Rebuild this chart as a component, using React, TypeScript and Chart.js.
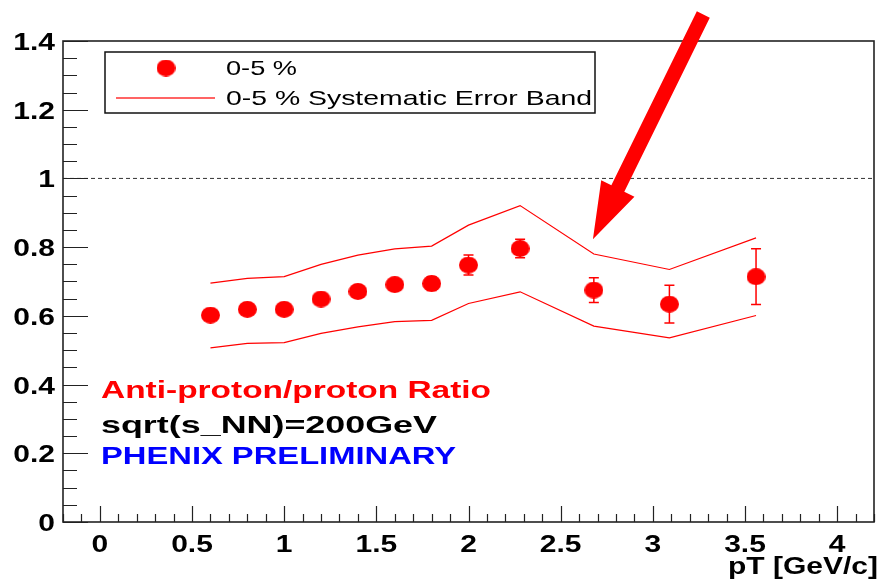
import React, { useEffect, useRef } from 'react';
import { Chart, registerables } from 'chart.js';

Chart.register(...registerables);

// ---- data ----
const pT = [0.6, 0.8, 1.0, 1.2, 1.4, 1.6, 1.8, 2.0, 2.28, 2.68, 3.09, 3.56];
const ratio = [0.602, 0.619, 0.619, 0.649, 0.671, 0.691, 0.694, 0.748, 0.796, 0.675, 0.634, 0.714];
const statErr = [0.01, 0.01, 0.01, 0.012, 0.012, 0.012, 0.02, 0.029, 0.027, 0.036, 0.055, 0.081];
const sysUpper = [0.695, 0.709, 0.714, 0.75, 0.777, 0.795, 0.803, 0.864, 0.921, 0.78, 0.735, 0.827];
const sysLower = [0.507, 0.52, 0.522, 0.549, 0.568, 0.583, 0.587, 0.636, 0.67, 0.57, 0.536, 0.601];
const xTickLabels = ['0', '0.5', '1', '1.5', '2', '2.5', '3', '3.5', '4'];
const yTickLabels = ['0', '0.2', '0.4', '0.6', '0.8', '1', '1.2', '1.4'];
const xRange = [-0.2, 4.2];
const yRange = [0, 1.4];
const referenceLevel = 1;
const arrowTail = { x: 3.274, y: 1.477 };
const arrowTip = { x: 2.675, y: 0.823 };
const legendLabels = ['0-5 %', '0-5 % Systematic Error Band'];
const noteLines = ['Anti-proton/proton Ratio', 'sqrt(s_NN)=200GeV', 'PHENIX PRELIMINARY'];
const noteColors = ['#ff0000', '#000000', '#0000ff'];
const axisTitle = 'pT [GeV/c]';

const FONT = "Arial, 'Liberation Sans', Helvetica, sans-serif";

function makeMarker(w: number, h: number, color: string) {
  const c = document.createElement('canvas');
  c.width = w;
  c.height = h;
  const g = c.getContext('2d')!;
  g.fillStyle = color;
  g.beginPath();
  g.ellipse(w / 2, h / 2, w / 2, h / 2, 0, 0, Math.PI * 2);
  g.fill();
  return c;
}

function drawText(
  ctx: CanvasRenderingContext2D,
  text: string,
  x: number,
  y: number,
  font: string,
  color: string,
  opts: { sx?: number; width?: number; align?: 'left' | 'right' | 'center'; baseline?: CanvasTextBaseline }
) {
  ctx.save();
  ctx.font = font;
  ctx.fillStyle = color;
  ctx.textBaseline = opts.baseline || 'alphabetic';
  ctx.textAlign = 'left';
  const w = ctx.measureText(text).width;
  const sx = opts.width ? opts.width / w : opts.sx || 1;
  const tw = w * sx;
  let left = x;
  if (opts.align === 'right') left = x - tw;
  else if (opts.align === 'center') left = x - tw / 2;
  ctx.translate(left, y);
  ctx.scale(sx, 1);
  ctx.fillText(text, 0, 0);
  ctx.restore();
}

export default function App() {
  const ref = useRef<HTMLCanvasElement | null>(null);

  useEffect(() => {
    if (!ref.current) return;
    const marker = makeMarker(19, 17, '#ff0000');
    const POINTS = 3;

    const rootPlugin = {
      id: 'rootStyle',
      beforeDatasetDraw(chart: any, args: any) {
        if (args.index !== POINTS) return;
        const { ctx, scales } = chart;
        const xs = scales.x;
        const ys = scales.y;
        ctx.save();
        ctx.strokeStyle = '#ff0000';
        ctx.lineWidth = 1.5;
        pT.forEach((p, i) => {
          const px = xs.getPixelForValue(p);
          const top = ys.getPixelForValue(ratio[i] + statErr[i]);
          const bot = ys.getPixelForValue(ratio[i] - statErr[i]);
          ctx.beginPath();
          ctx.moveTo(px, top);
          ctx.lineTo(px, bot);
          ctx.moveTo(px - 5, top);
          ctx.lineTo(px + 5, top);
          ctx.moveTo(px - 5, bot);
          ctx.lineTo(px + 5, bot);
          ctx.stroke();
        });
        ctx.restore();
      },
      afterDraw(chart: any) {
        const { ctx, chartArea: a, scales } = chart;
        const xs = scales.x;
        const ys = scales.y;
        ctx.save();
        // ticks inside the frame
        ctx.strokeStyle = '#222';
        ctx.lineWidth = 1.2;
        ctx.beginPath();
        for (let k = 0; k <= 28; k++) {
          const v = k * 0.05;
          const py = Math.round(ys.getPixelForValue(v)) + 0.5;
          const len = k % 4 === 0 ? 25 : 14;
          ctx.moveTo(a.left, py);
          ctx.lineTo(a.left + len, py);
        }
        for (let k = -2; k <= 42; k++) {
          const v = k * 0.1;
          const px = Math.round(xs.getPixelForValue(v)) + 0.5;
          const len = k % 5 === 0 ? 16 : 8;
          ctx.moveTo(px, a.bottom);
          ctx.lineTo(px, a.bottom - len);
        }
        ctx.stroke();
        // frame
        ctx.lineWidth = 1.6;
        ctx.strokeStyle = '#222';
        ctx.strokeRect(a.left, a.top, a.right - a.left, a.bottom - a.top);
        ctx.restore();

        // tick labels
        const tickFont = `bold 24px ${FONT}`;
        xTickLabels.forEach((t) => {
          const px = xs.getPixelForValue(parseFloat(t));
          drawText(ctx, t, px, 552, tickFont, '#000', { sx: 1.25, align: 'center' });
        });
        yTickLabels.forEach((t) => {
          const py = ys.getPixelForValue(parseFloat(t));
          drawText(ctx, t, 55, py + 9, tickFont, '#000', { sx: 1.25, align: 'right' });
        });
        // axis title
        drawText(ctx, axisTitle, 878, 574, `bold 24px ${FONT}`, '#000', { width: 150, align: 'left' === 'left' ? 'right' : 'right' });

        // legend
        ctx.save();
        ctx.fillStyle = '#fff';
        ctx.fillRect(105, 52, 490, 61);
        ctx.strokeStyle = '#111';
        ctx.lineWidth = 1.5;
        ctx.strokeRect(105, 52, 490, 61);
        ctx.drawImage(marker, 166 - marker.width / 2, 68 - marker.height / 2);
        ctx.strokeStyle = '#ff3030';
        ctx.lineWidth = 1.5;
        ctx.beginPath();
        ctx.moveTo(116, 98);
        ctx.lineTo(215, 98);
        ctx.stroke();
        ctx.restore();
        const legFont = `21px ${FONT}`;
        drawText(ctx, legendLabels[0], 226, 75, legFont, '#000', { width: 71 });
        drawText(ctx, legendLabels[1], 226, 105, legFont, '#000', { width: 366 });

        // notes
        const noteFont = `bold 24px ${FONT}`;
        const baselines = [398, 433, 463.5];
        const widths = [390, 336, 355];
        noteLines.forEach((t, i) => {
          drawText(ctx, t, 101, baselines[i], noteFont, noteColors[i], { width: widths[i] });
        });

        // arrow
        const tx = xs.getPixelForValue(arrowTip.x);
        const ty = ys.getPixelForValue(arrowTip.y);
        const sxp = xs.getPixelForValue(arrowTail.x);
        const syp = ys.getPixelForValue(arrowTail.y);
        const dx = tx - sxp;
        const dy = ty - syp;
        const L = Math.hypot(dx, dy);
        const ux = dx / L;
        const uy = dy / L;
        const nx = -uy;
        const ny = ux;
        const headLen = 56.5;
        const headHalf = 18.5;
        const shaftHalf = 7.2;
        const bx = tx - ux * headLen;
        const by = ty - uy * headLen;
        ctx.save();
        ctx.fillStyle = '#ff0000';
        ctx.beginPath();
        ctx.moveTo(sxp + nx * shaftHalf, syp + ny * shaftHalf);
        ctx.lineTo(bx + nx * shaftHalf, by + ny * shaftHalf);
        ctx.lineTo(bx + nx * headHalf, by + ny * headHalf);
        ctx.lineTo(tx, ty);
        ctx.lineTo(bx - nx * headHalf, by - ny * headHalf);
        ctx.lineTo(bx - nx * shaftHalf, by - ny * shaftHalf);
        ctx.lineTo(sxp - nx * shaftHalf, syp - ny * shaftHalf);
        ctx.closePath();
        ctx.fill();
        ctx.restore();
      },
    };

    const chart = new Chart(ref.current, {
      type: 'scatter',
      data: {
        datasets: [
          {
            label: 'upper',
            data: pT.map((x, i) => ({ x, y: sysUpper[i] })),
            showLine: true,
            borderColor: '#ff0000',
            borderWidth: 1.2,
            pointRadius: 0,
          },
          {
            label: 'lower',
            data: pT.map((x, i) => ({ x, y: sysLower[i] })),
            showLine: true,
            borderColor: '#ff0000',
            borderWidth: 1.2,
            pointRadius: 0,
          },
          {
            label: 'ref',
            data: [
              { x: xRange[0], y: referenceLevel },
              { x: xRange[1], y: referenceLevel },
            ],
            showLine: true,
            borderColor: '#333',
            borderWidth: 1,
            borderDash: [4, 3],
            pointRadius: 0,
          },
          {
            label: legendLabels[0],
            data: pT.map((x, i) => ({ x, y: ratio[i] })),
            pointStyle: marker as any,
            pointRadius: 9,
            backgroundColor: '#ff0000',
            borderColor: '#ff0000',
          },
        ],
      },
      options: {
        animation: false,
        responsive: true,
        maintainAspectRatio: false,
        layout: { padding: { left: 0, top: 41, right: 4, bottom: 0 } },
        plugins: { legend: { display: false }, tooltip: { enabled: false } },
        events: [],
        scales: {
          x: {
            type: 'linear',
            min: xRange[0],
            max: xRange[1],
            grid: { display: false },
            border: { display: false },
            ticks: { display: false, stepSize: 0.5, includeBounds: false },
            afterFit: (s: any) => {
              s.height = 58;
            },
          },
          y: {
            type: 'linear',
            min: yRange[0],
            max: yRange[1],
            grid: { display: false },
            border: { display: false },
            ticks: { display: false, stepSize: 0.2, includeBounds: false },
            afterFit: (s: any) => {
              s.width = 63;
            },
          },
        },
      },
      plugins: [rootPlugin],
    } as any);
    return () => chart.destroy();
  }, []);

  return (
    <div style={{ position: 'fixed', left: 0, top: 0, width: 884, height: 580, background: '#fff' }}>
      <canvas ref={ref} />
    </div>
  );
}
